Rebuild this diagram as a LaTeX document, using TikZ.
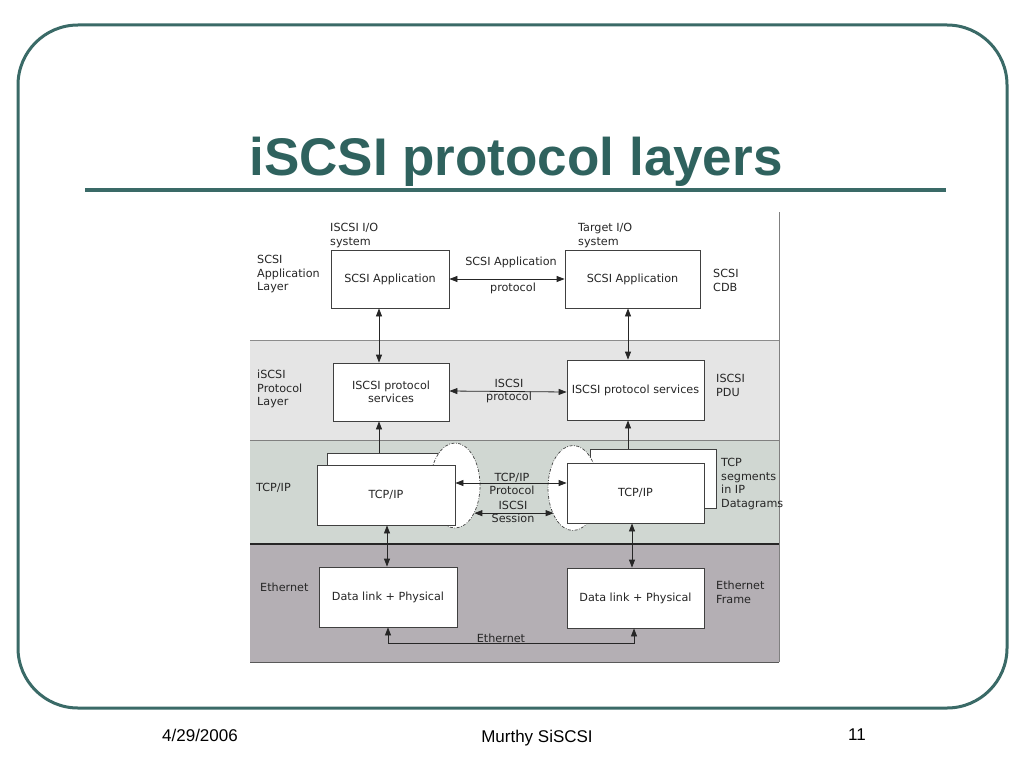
\documentclass[tikz,border=0pt]{standalone}
\usepackage{fontspec}
\setmainfont{DejaVu Sans}
\newfontfamily\arialfont{Liberation Sans}
\usetikzlibrary{arrows.meta,shapes.geometric}
\definecolor{teal1}{HTML}{3A6A67}
\definecolor{titlec}{HTML}{2F625E}
\definecolor{bandA}{HTML}{E5E5E5}
\definecolor{bandB}{HTML}{D0D7D2}
\definecolor{bandC}{HTML}{B4AFB4}
\begin{document}
\begin{tikzpicture}[x=1pt,y=-1pt,
  box/.style={draw=black!75,fill=white,line width=0.8pt,inner sep=2pt,
    font=\fontsize{11.2}{13.5}\selectfont,text=black!85,align=center},
  lbl/.style={font=\fontsize{11.2}{13.5}\selectfont,text=black!85,inner sep=0pt,align=left,anchor=north west},
  clbl/.style={font=\fontsize{11.2}{13.5}\selectfont,text=black!85,inner sep=0pt,align=center},
  conn/.style={line width=0.8pt,draw=black!85},
  tip/.style={-{Triangle[length=8pt,width=6pt]}},
  dtip/.style={{Triangle[length=8pt,width=6pt]}-{Triangle[length=8pt,width=6pt]}},
  ell/.style={ellipse,draw=black!75,fill=white,line width=0.7pt,
    dash pattern=on 3pt off 1.5pt on 0.8pt off 1.5pt,inner sep=0pt},
  foot/.style={font=\arialfont\fontsize{17}{20}\selectfont,text=black}
]
\useasboundingbox (0,0) rectangle (1024,768);
\fill[white] (0,0) rectangle (1024,768);
% slide frame
\draw[teal1,line width=3pt,rounded corners=60pt] (18,25) rectangle (1007,708);
\node[font=\arialfont\bfseries\fontsize{53}{60}\selectfont,text=titlec,anchor=base,inner sep=0pt] (title) at (516,175) {iSCSI protocol layers};
\draw[teal1,line width=4pt] (85,190) -- (946,190);
% bands
\fill[bandA] (250,340) rectangle (779,440);
\fill[bandB] (250,440) rectangle (779,544);
\fill[bandC] (250,544) rectangle (779,662);
\draw[black!45,line width=0.8pt] (250,340) -- (779,340);
\draw[black!50,line width=0.8pt] (250,440) -- (779,440);
\draw[black!85,line width=1.2pt] (250,544) -- (779,544);
\draw[black!65,line width=1pt] (250,662) -- (779,662);
\draw[black!50,line width=0.8pt] (779,212) -- (779,662);
% boxes
\node[box,minimum width=118pt,minimum height=58pt] (sa1) at (390,279) {SCSI Application};
\node[box,minimum width=135pt,minimum height=58pt] (sa2) at (632.5,279) {SCSI Application};
\node[box,minimum width=116pt,minimum height=58pt] (sv1) at (391,392) {ISCSI protocol\\services};
\node[box,minimum width=137pt,minimum height=60pt] (sv2) at (635.5,390) {ISCSI protocol services};
\node[box,minimum width=128pt,minimum height=60pt] (tb1) at (391,483) {};
\node[box,minimum width=126pt,minimum height=59pt] (tb2) at (653,478.5) {};
\node[ell,minimum width=50pt,minimum height=85pt] (el1) at (455,485.5) {};
\node[ell,minimum width=50pt,minimum height=85pt] (el2) at (573,488) {};
\node[box,minimum width=138pt,minimum height=60pt] (tf1) at (386,495) {TCP/IP};
\node[box,minimum width=137pt,minimum height=60pt] (tf2) at (635.5,493) {TCP/IP};
\node[box,minimum width=138pt,minimum height=60pt] (dl1) at (388,597) {Data link + Physical};
\node[box,minimum width=137pt,minimum height=60pt] (dl2) at (635.5,598) {Data link + Physical};
% labels
\node[lbl] (l1) at (257,255) {SCSI\\Application\\Layer};
\node[lbl] (l2) at (330,223) {ISCSI I/O\\system};
\node[lbl] (l3) at (578,223) {Target I/O\\system};
\node[lbl] (l4) at (713,269) {SCSI\\CDB};
\node[clbl] (l5) at (511,262) {SCSI Application};
\node[clbl] (l6) at (513,288) {protocol};
\node[lbl] (l7) at (257,370) {iSCSI\\Protocol\\Layer};
\node[clbl] (l8) at (509,391) {ISCSI\\protocol};
\node[lbl] (l9) at (716,374) {ISCSI\\PDU};
\node[lbl] (l10) at (256,483) {TCP/IP};
\node[clbl] (l11) at (512,484) {TCP/IP\\Protocol};
\node[clbl] (l12) at (513,512) {ISCSI\\Session};
\node[lbl] (l13) at (721,458) {TCP\\segments\\in IP\\Datagrams};
\node[lbl] (l14) at (260,583) {Ethernet};
\node[lbl] (l15) at (716,581) {Ethernet\\Frame};
\node[clbl] (l16) at (501,638) {Ethernet};
% connectors
\draw[conn,dtip] (sa1.east) -- (sa2.west);
\draw[conn,dtip] ([xshift=-11pt]sa1.south) -- ([xshift=-11pt]sa1.south |- sv1.north);
\draw[conn,dtip] ([xshift=-4.5pt]sa2.south) -- ([xshift=-4.5pt]sa2.south |- sv2.north);
\draw[conn,dtip] ([yshift=1pt]sv1.east) -- (sv1.east -| sv2.west);
\draw[conn,tip] ([xshift=-12pt]sv1.south |- tb1.north) -- ([xshift=-12pt]sv1.south);
\draw[conn,tip] ([xshift=-7.5pt]sv2.south |- tb2.north) -- ([xshift=-7.5pt]sv2.south);
\draw[conn,dtip] ([yshift=12pt]tf1.east) -- ([yshift=12pt]tf1.east -| tf2.west);
\draw[conn,dtip] (el1.-55) -- (el1.-55 -| el2.-125);
\draw[conn,dtip] ([xshift=1pt]tf1.south) -- ([xshift=1pt]tf1.south |- dl1.north);
\draw[conn,dtip] ([xshift=-3.5pt]tf2.south) -- ([xshift=-3.5pt]tf2.south |- dl2.north);
\draw[conn,dtip] (dl1.south) -- ++(0,16) -| ([xshift=-1.5pt]dl2.south);
% footer
\node[foot] (date) at (200,735) {4/29/2006};
\node[foot] (auth) at (537,738) {Murthy SiSCSI};
\node[foot] (page) at (857,735) {11};
\end{tikzpicture}
\end{document}
